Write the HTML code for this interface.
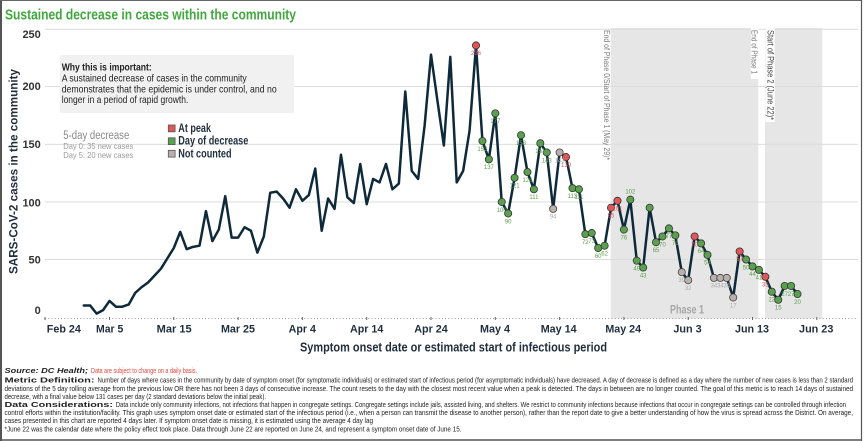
<!DOCTYPE html>
<html><head><meta charset="utf-8"><style>html,body{margin:0;padding:0;background:#fff;}svg{display:block}</style></head>
<body>
<svg width="864" height="441" viewBox="0 0 864 441" xmlns="http://www.w3.org/2000/svg" font-family="'Liberation Sans', Arial, sans-serif">
<style>
.g{fill:#59a14f;stroke:#333;stroke-width:0.8}
.r{fill:#e15759;stroke:#333;stroke-width:0.8}
.n{fill:#bab0ac;stroke:#444;stroke-width:0.8}
.lg{fill:#5c9e4e;font-size:6px;text-anchor:middle}
.lr{fill:#e15759;font-size:6px;text-anchor:middle}
.ln{fill:#a9a9a9;font-size:6px;text-anchor:middle}
.xl{font-size:11px;font-weight:bold;fill:#1f2d3d;text-anchor:middle}
.yl{font-size:11px;font-weight:bold;fill:#333;text-anchor:end}
.fn{font-size:7.5px;fill:#222}
</style>
<rect x="0" y="0" width="864" height="441" fill="#fff"/>
<!-- shaded phases -->
<rect x="610.7" y="28" width="147.6" height="290.5" fill="#e6e6e6"/>
<rect x="765" y="28" width="57.3" height="290.5" fill="#e6e6e6"/>
<!-- gridlines -->
<g stroke="#dcdcdc" stroke-width="1">
<line x1="45" y1="29.3" x2="858" y2="29.3"/>
<line x1="45" y1="86.5" x2="858" y2="86.5"/>
<line x1="45" y1="144.4" x2="858" y2="144.4"/>
<line x1="45" y1="202" x2="858" y2="202"/>
<line x1="45" y1="259.5" x2="858" y2="259.5"/>
</g>
<!-- x axis -->
<line x1="45" y1="318.5" x2="858" y2="318.5" stroke="#999" stroke-width="1" stroke-dasharray="1 2.2"/>
<g stroke="#666" stroke-width="1">
<line x1="45" y1="317" x2="45" y2="320"/>
<line x1="109.5" y1="317" x2="109.5" y2="320"/>
<line x1="173.8" y1="317" x2="173.8" y2="320"/>
<line x1="238.1" y1="317" x2="238.1" y2="320"/>
<line x1="302.4" y1="317" x2="302.4" y2="320"/>
<line x1="366.7" y1="317" x2="366.7" y2="320"/>
<line x1="431" y1="317" x2="431" y2="320"/>
<line x1="495.3" y1="317" x2="495.3" y2="320"/>
<line x1="559.6" y1="317" x2="559.6" y2="320"/>
<line x1="623.9" y1="317" x2="623.9" y2="320"/>
<line x1="688.2" y1="317" x2="688.2" y2="320"/>
<line x1="752.5" y1="317" x2="752.5" y2="320"/>
<line x1="816.8" y1="317" x2="816.8" y2="320"/>
</g>
<text class="xl" x="63.8" y="332.3" textLength="34" lengthAdjust="spacingAndGlyphs">Feb 24</text>
<text class="xl" x="109.7" y="332.3" textLength="27.3" lengthAdjust="spacingAndGlyphs">Mar 5</text>
<text class="xl" x="174.2" y="332.3" textLength="35" lengthAdjust="spacingAndGlyphs">Mar 15</text>
<text class="xl" x="238" y="332.3" textLength="34" lengthAdjust="spacingAndGlyphs">Mar 25</text>
<text class="xl" x="302.3" y="332.3" textLength="27.3" lengthAdjust="spacingAndGlyphs">Apr 4</text>
<text class="xl" x="366.7" y="332.3" textLength="33.3" lengthAdjust="spacingAndGlyphs">Apr 14</text>
<text class="xl" x="431" y="332.3" textLength="33.5" lengthAdjust="spacingAndGlyphs">Apr 24</text>
<text class="xl" x="495" y="332.3" textLength="30" lengthAdjust="spacingAndGlyphs">May 4</text>
<text class="xl" x="558.7" y="332.3" textLength="36" lengthAdjust="spacingAndGlyphs">May 14</text>
<text class="xl" x="623.2" y="332.3" textLength="35.7" lengthAdjust="spacingAndGlyphs">May 24</text>
<text class="xl" x="687.5" y="332.3" textLength="28.3" lengthAdjust="spacingAndGlyphs">Jun 3</text>
<text class="xl" x="752" y="332.3" textLength="34" lengthAdjust="spacingAndGlyphs">Jun 13</text>
<text class="xl" x="816.2" y="332.3" textLength="34.3" lengthAdjust="spacingAndGlyphs">Jun 23</text>
<text x="300" y="351.3" font-size="13" font-weight="bold" fill="#1f2d3d" textLength="307" lengthAdjust="spacingAndGlyphs">Symptom onset date or estimated start of infectious period</text>
<!-- y axis -->
<text class="yl" x="40.8" y="38">250</text>
<text class="yl" x="40.8" y="90">200</text>
<text class="yl" x="40.8" y="148">150</text>
<text class="yl" x="40.8" y="206.5">100</text>
<text class="yl" x="40.8" y="263.5">50</text>
<text class="yl" x="40.8" y="314">0</text>
<text transform="translate(17.3,274) rotate(-90)" font-size="12" font-weight="bold" fill="#1f2d3d" textLength="205" lengthAdjust="spacingAndGlyphs">SARS-CoV-2 cases in the community</text>
<!-- title -->
<text x="5" y="19.5" font-size="14.5" font-weight="bold" fill="#41a83e" textLength="291" lengthAdjust="spacingAndGlyphs">Sustained decrease in cases within the community</text>
<!-- info box -->
<rect x="60" y="55" width="234" height="58" fill="#f1f1f1"/>
<text x="61.7" y="70.5" font-size="10.5" font-weight="bold" fill="#222" textLength="90" lengthAdjust="spacingAndGlyphs">Why this is important:</text>
<text x="61.7" y="81.5" font-size="10.5" fill="#222" textLength="185" lengthAdjust="spacingAndGlyphs">A sustained decrease of cases in the community</text>
<text x="61.7" y="92.5" font-size="10.5" fill="#222" textLength="215" lengthAdjust="spacingAndGlyphs">demonstrates that the epidemic is under control, and no</text>
<text x="61.7" y="103" font-size="10.5" fill="#222" textLength="126.7" lengthAdjust="spacingAndGlyphs">longer in a period of rapid growth.</text>
<!-- 5-day decrease -->
<text x="63.3" y="139" font-size="11.5" fill="#8a8a8a" textLength="66" lengthAdjust="spacingAndGlyphs">5-day decrease</text>
<text x="63.3" y="149" font-size="8.5" fill="#9a9a9a" textLength="70" lengthAdjust="spacingAndGlyphs">Day 0: 35 new cases</text>
<text x="63.3" y="158" font-size="8.5" fill="#9a9a9a" textLength="70" lengthAdjust="spacingAndGlyphs">Day 5: 20 new cases</text>
<!-- legend -->
<rect x="168.3" y="125" width="6.8" height="6.8" fill="#e15759" stroke="#555" stroke-width="0.8"/>
<rect x="168.3" y="137.8" width="6.8" height="6.8" fill="#59a14f" stroke="#555" stroke-width="0.8"/>
<rect x="168.3" y="150.3" width="6.8" height="6.8" fill="#bab0ac" stroke="#555" stroke-width="0.8"/>
<text x="178.3" y="132" font-size="11.5" font-weight="bold" fill="#1f2d3d" textLength="32.7" lengthAdjust="spacingAndGlyphs">At peak</text>
<text x="178.3" y="144.6" font-size="11.5" font-weight="bold" fill="#1f2d3d" textLength="70" lengthAdjust="spacingAndGlyphs">Day of decrease</text>
<text x="178.3" y="157.3" font-size="11.5" font-weight="bold" fill="#1f2d3d" textLength="53.3" lengthAdjust="spacingAndGlyphs">Not counted</text>
<!-- phase annotations -->
<text transform="translate(607,30) rotate(90)" font-size="8.5" fill="#7a7a7a" dominant-baseline="central" textLength="130" lengthAdjust="spacingAndGlyphs">End of Phase 0/Start of Phase 1 (May 29)*</text>
<rect x="750.8" y="28" width="7.8" height="51" fill="#fff"/>
<text transform="translate(754.7,30) rotate(90)" font-size="8.5" fill="#7a7a7a" dominant-baseline="central" textLength="44" lengthAdjust="spacingAndGlyphs">End of Phase 1</text>
<rect x="765.5" y="28" width="9.2" height="94" fill="#fff"/>
<text transform="translate(770,30) rotate(90)" font-size="9.5" fill="#444" dominant-baseline="central" textLength="90" lengthAdjust="spacingAndGlyphs">Start of Phase 2 (June 22)*</text>
<text x="687" y="313.5" font-size="12" font-weight="bold" fill="#a6a6a6" text-anchor="middle" textLength="34" lengthAdjust="spacingAndGlyphs">Phase 1</text>
<!-- data line -->
<path fill="none" stroke="#0e2a3a" stroke-width="2.5" stroke-linejoin="round" stroke-linecap="round" d="M83.78,305.54 L90.21,305.54 L96.64,313.6 L103.07,310.14 L109.5,300.94 L115.93,306.69 L122.36,306.69 L128.79,304.39 L135.22,292.88 L141.65,287.12 L148.08,282.52 L154.51,275.61 L160.94,268.71 L167.37,258.35 L173.8,247.99 L180.23,231.87 L186.66,249.14 L193.09,246.84 L199.52,245.69 L205.95,211.16 L212.38,241.08 L218.81,229.57 L225.24,196.2 L231.67,237.63 L238.1,237.63 L244.53,227.27 L250.96,230.72 L257.39,252.59 L263.82,236.48 L270.25,192.74 L276.68,191.59 L283.11,198.5 L289.54,207.7 L295.97,189.29 L302.4,200.8 L308.83,195.04 L315.26,168.57 L321.69,230.72 L328.12,198.5 L334.55,208.86 L340.98,154.76 L347.41,197.35 L353.84,203.1 L360.27,163.97 L366.7,204.25 L373.13,178.93 L379.56,182.38 L385.99,163.97 L392.42,189.29 L398.85,183.53 L405.28,91.45 L411.71,170.87 L418.14,178.93 L424.57,125.98 L431,54.62 L437.43,100.64 L443.86,145.55 L450.29,56.92 L456.72,182.38 L463.15,170.87 L469.58,130.59 L476.01,45.41 L482.44,140.95 L488.87,159.36 L495.3,113.32 L501.73,201.95 L508.16,213.46 L514.59,177.78 L521.02,135.19 L527.45,172.02 L533.88,189.29 L540.31,143.25 L546.74,152.46 L553.17,208.86 L559.6,152.46 L566.03,157.06 L572.46,188.14 L578.89,189.29 L585.32,234.18 L591.75,233.03 L598.18,247.99 L604.61,245.69 L611.04,207.7 L617.47,200.8 L623.9,229.57 L630.33,199.65 L636.76,260.65 L643.19,267.56 L649.62,207.7 L656.05,242.23 L662.48,236.48 L668.91,228.42 L675.34,235.33 L681.77,272.16 L688.2,280.22 L694.63,236.48 L701.06,243.39 L707.49,254.9 L713.92,277.92 L720.35,277.92 L726.78,277.92 L733.21,297.48 L739.64,251.44 L746.07,259.5 L752.5,266.41 L758.93,269.86 L765.36,276.77 L771.79,291.73 L778.22,299.79 L784.65,285.97 L791.08,285.97 L797.51,294.03"/>
<!-- markers -->
<g>
<circle class="r" cx="476.01" cy="45.41" r="3.6"/>
<circle class="g" cx="482.44" cy="140.95" r="3.6"/>
<circle class="g" cx="488.87" cy="159.36" r="3.6"/>
<circle class="g" cx="495.3" cy="113.32" r="3.6"/>
<circle class="g" cx="501.73" cy="201.95" r="3.6"/>
<circle class="g" cx="508.16" cy="213.46" r="3.6"/>
<circle class="g" cx="514.59" cy="177.78" r="3.6"/>
<circle class="g" cx="521.02" cy="135.19" r="3.6"/>
<circle class="g" cx="527.45" cy="172.02" r="3.6"/>
<circle class="g" cx="533.88" cy="189.29" r="3.6"/>
<circle class="g" cx="540.31" cy="143.25" r="3.6"/>
<circle class="g" cx="546.74" cy="152.46" r="3.6"/>
<circle class="n" cx="553.17" cy="208.86" r="3.6"/>
<circle class="n" cx="559.6" cy="152.46" r="3.6"/>
<circle class="r" cx="566.03" cy="157.06" r="3.6"/>
<circle class="g" cx="572.46" cy="188.14" r="3.6"/>
<circle class="g" cx="578.89" cy="189.29" r="3.6"/>
<circle class="g" cx="585.32" cy="234.18" r="3.6"/>
<circle class="g" cx="591.75" cy="233.03" r="3.6"/>
<circle class="g" cx="598.18" cy="247.99" r="3.6"/>
<circle class="g" cx="604.61" cy="245.69" r="3.6"/>
<circle class="r" cx="611.04" cy="207.7" r="3.6"/>
<circle class="r" cx="617.47" cy="200.8" r="3.6"/>
<circle class="g" cx="623.9" cy="229.57" r="3.6"/>
<circle class="g" cx="630.33" cy="199.65" r="3.6"/>
<circle class="g" cx="636.76" cy="260.65" r="3.6"/>
<circle class="g" cx="643.19" cy="267.56" r="3.6"/>
<circle class="g" cx="649.62" cy="207.7" r="3.6"/>
<circle class="g" cx="656.05" cy="242.23" r="3.6"/>
<circle class="g" cx="662.48" cy="236.48" r="3.6"/>
<circle class="g" cx="668.91" cy="228.42" r="3.6"/>
<circle class="g" cx="675.34" cy="235.33" r="3.6"/>
<circle class="n" cx="681.77" cy="272.16" r="3.6"/>
<circle class="n" cx="688.2" cy="280.22" r="3.6"/>
<circle class="r" cx="694.63" cy="236.48" r="3.6"/>
<circle class="g" cx="701.06" cy="243.39" r="3.6"/>
<circle class="g" cx="707.49" cy="254.9" r="3.6"/>
<circle class="n" cx="713.92" cy="277.92" r="3.6"/>
<circle class="n" cx="720.35" cy="277.92" r="3.6"/>
<circle class="n" cx="726.78" cy="277.92" r="3.6"/>
<circle class="n" cx="733.21" cy="297.48" r="3.6"/>
<circle class="r" cx="739.64" cy="251.44" r="3.6"/>
<circle class="g" cx="746.07" cy="259.5" r="3.6"/>
<circle class="g" cx="752.5" cy="266.41" r="3.6"/>
<circle class="g" cx="758.93" cy="269.86" r="3.6"/>
<circle class="r" cx="765.36" cy="276.77" r="3.6"/>
<circle class="g" cx="771.79" cy="291.73" r="3.6"/>
<circle class="g" cx="778.22" cy="299.79" r="3.6"/>
<circle class="g" cx="784.65" cy="285.97" r="3.6"/>
<circle class="g" cx="791.08" cy="285.97" r="3.6"/>
<circle class="g" cx="797.51" cy="294.03" r="3.6"/>
</g>
<!-- value labels -->
<g>
<text class="lr" x="476.01" y="55.2">236</text>
<text class="lg" x="482.44" y="150.8">153</text>
<text class="lg" x="488.87" y="169.2">137</text>
<text class="lg" x="495.3" y="123.1">177</text>
<text class="lg" x="501.73" y="211.8">100</text>
<text class="lg" x="508.16" y="223.3">90</text>
<text class="lg" x="514.59" y="187.6">121</text>
<text class="lg" x="521.02" y="145">158</text>
<text class="lg" x="527.45" y="181.8">126</text>
<text class="lg" x="533.88" y="199.1">111</text>
<text class="lg" x="540.31" y="153.1">151</text>
<text class="lg" x="546.74" y="162.3">143</text>
<text class="ln" x="553.17" y="218.7">94</text>
<text class="ln" x="559.6" y="162.3">143</text>
<text class="lr" x="566.03" y="166.9">139</text>
<text class="lg" x="572.46" y="198">113</text>
<text class="lg" x="578.89" y="199.1">111</text>
<text class="lg" x="585.32" y="244">72</text>
<text class="lg" x="591.75" y="242.8">73</text>
<text class="lg" x="598.18" y="257.8">60</text>
<text class="lg" x="604.61" y="255.5">62</text>
<text class="lr" x="611.04" y="217.5">95</text>
<text class="lr" x="617.47" y="210.6">101</text>
<text class="lg" x="623.9" y="239.4">76</text>
<text class="lg" x="630.33" y="193.3">102</text>
<text class="lg" x="636.76" y="270.5">49</text>
<text class="lg" x="643.19" y="277.4">43</text>
<text class="lg" x="656.05" y="252">65</text>
<text class="lg" x="662.48" y="246.3">70</text>
<text class="lg" x="668.91" y="238.2">77</text>
<text class="lg" x="675.34" y="245.1">71</text>
<text class="ln" x="681.77" y="282">39</text>
<text class="ln" x="688.2" y="290">32</text>
<text class="lr" x="694.63" y="246.3">70</text>
<text class="lg" x="701.06" y="253.2">64</text>
<text class="lg" x="707.49" y="264.7">54</text>
<text class="ln" x="713.92" y="287.7">34</text>
<text class="ln" x="720.35" y="287.7">34</text>
<text class="ln" x="726.78" y="287.7">34</text>
<text class="ln" x="733.21" y="307.3">17</text>
<text class="lr" x="739.64" y="261.2">57</text>
<text class="lg" x="746.07" y="269.3">50</text>
<text class="lg" x="752.5" y="276.2">44</text>
<text class="lg" x="758.93" y="279.7">41</text>
<text class="lr" x="765.36" y="286.6">35</text>
<text class="lg" x="771.79" y="301.5">22</text>
<text class="lg" x="778.22" y="309.6">15</text>
<text class="lg" x="784.65" y="295.8">27</text>
<text class="lg" x="791.08" y="295.8">27</text>
<text class="lg" x="797.51" y="303.8">20</text>
</g>
<!-- footnotes -->
<text class="fn" x="4.5" y="373.2" font-weight="bold" font-style="italic" textLength="83.5" lengthAdjust="spacingAndGlyphs">Source: DC Health;</text>
<text class="fn" x="91" y="373.2" style="fill:#e8443a" textLength="106" lengthAdjust="spacingAndGlyphs">Data are subject to change on a daily basis.</text>
<text class="fn" x="4.5" y="382.5" font-weight="bold" textLength="90" lengthAdjust="spacingAndGlyphs">Metric Definition:</text>
<text class="fn" x="97.5" y="382.5" textLength="755.5" lengthAdjust="spacingAndGlyphs">Number of days where cases in the community by date of symptom onset (for symptomatic individuals) or estimated start of infectious period (for asymptomatic individuals) have decreased. A day of decrease is defined as a day where the number of new cases is less than 2 standard</text>
<text class="fn" x="4.5" y="391.2" textLength="848.5" lengthAdjust="spacingAndGlyphs">deviations of the 5 day rolling average from the previous low OR there has not been 3 days of consecutive increase.  The count resets to the day with the closest most recent value when a peak is detected. The days in between are no longer counted. The goal of this metric is to reach 14 days of sustained</text>
<text class="fn" x="4.5" y="399" textLength="261.5" lengthAdjust="spacingAndGlyphs">decrease, with a final value below 131 cases per day (2 standard deviations below the initial peak).</text>
<text class="fn" x="4.5" y="407" font-weight="bold" textLength="108.5" lengthAdjust="spacingAndGlyphs">Data Considerations:</text>
<text class="fn" x="115.7" y="407" textLength="730.3" lengthAdjust="spacingAndGlyphs">Data include only community infections, not infections that happen in congregate settings. Congregate settings include jails, assisted living, and shelters. We restrict to community infections because infections that occur in congregate settings can be controlled through infection</text>
<text class="fn" x="4.5" y="415" textLength="848.5" lengthAdjust="spacingAndGlyphs">control efforts within the institution/facility.  This graph uses symptom onset date or estimated start of the infectious period (i.e., when a person can transmit the disease to another person), rather than the report date to give a better understanding of how the virus is spread across the District. On average,</text>
<text class="fn" x="4.5" y="423" textLength="368.5" lengthAdjust="spacingAndGlyphs">cases presented in this chart are reported 4 days later.  If symptom onset date is missing, it is estimated using the average 4 day lag</text>
<text class="fn" x="4.5" y="431.7" textLength="457" lengthAdjust="spacingAndGlyphs">*June 22 was the calendar date where the policy effect took place. Data through June 22 are reported on June 24, and represent a symptom onset date of June 15.</text>
<!-- frame -->
<line x1="1" y1="0" x2="1" y2="441" stroke="#555" stroke-width="2"/>
<line x1="0" y1="0.5" x2="862" y2="0.5" stroke="#666" stroke-width="1"/>
<line x1="861.5" y1="0" x2="861.5" y2="441" stroke="#555" stroke-width="1.2"/>
<line x1="0" y1="440" x2="862" y2="440" stroke="#555" stroke-width="1.5"/>
</svg>
</body></html>
